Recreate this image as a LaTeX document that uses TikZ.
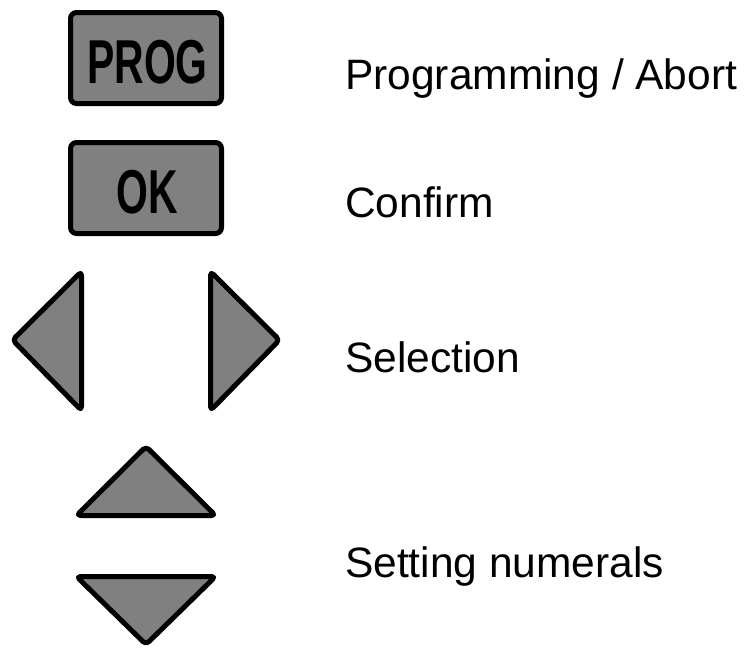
\documentclass[tikz,border=0pt]{standalone}
\usepackage{fontspec}
\setmainfont{Liberation Sans}
\begin{document}
\begin{tikzpicture}[x=1pt,y=-1pt,
  keybox/.style={draw=black, fill=keygray, line width=5pt, rounded corners=6pt,
    minimum width=151pt, minimum height=91pt, inner sep=0pt},
  keytext/.style={inner sep=0pt, text height=0pt, text depth=0pt, anchor=base,
    font=\fontsize{62}{62}\selectfont\bfseries, xscale=0.66},
  arrowkey/.style={draw=black, fill=keygray, line width=5pt, rounded corners=4pt, line join=round},
  desc/.style={inner sep=0pt, anchor=base west, font=\fontsize{42.5}{50}\selectfont}]
\definecolor{keygray}{RGB}{128,128,128}
\useasboundingbox (0,0) rectangle (748,648);
% buttons
\node[keybox] (prog) at (146,58) {};
\node[keytext] (progtxt) at (147.5,83) {PROG};
\node[keybox] (ok) at (146,188) {};
\node[keytext] (oktxt) at (147.5,213) {OK};
% arrow keys
\draw[arrowkey] (12.5,340) -- (81.5,271.5) -- (81.5,410.5) -- cycle;
\draw[arrowkey] (210.5,271.5) -- (279.5,340) -- (210.5,410.5) -- cycle;
\draw[arrowkey] (146,446.5) -- (215.5,515.5) -- (76.5,515.5) -- cycle;
\draw[arrowkey] (76.5,576.5) -- (215.5,576.5) -- (146,644.5) -- cycle;
% descriptions
\node[desc] (d1) at (345,89) {Programming / Abort};
\node[desc] (d2) at (345,217) {Confirm};
\node[desc] (d3) at (345,372) {Selection};
\node[desc] (d4) at (345,577) {Setting numerals};
\end{tikzpicture}
\end{document}
